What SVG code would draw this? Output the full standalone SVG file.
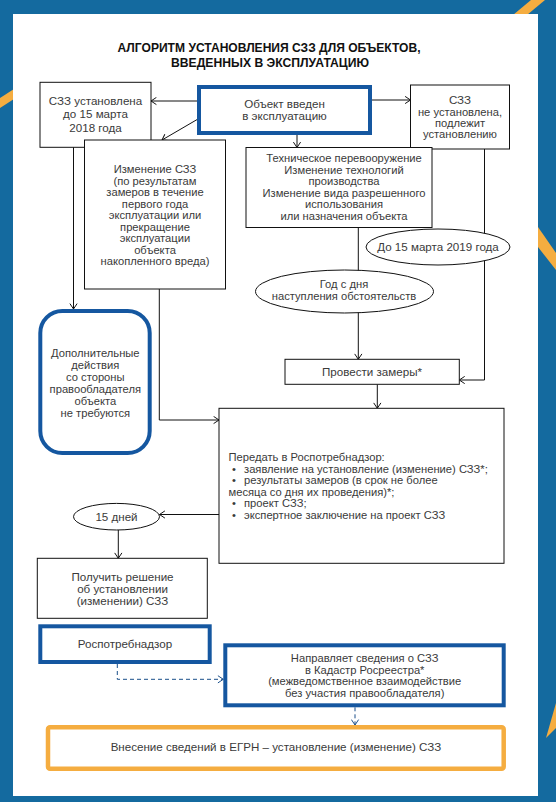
<svg xmlns="http://www.w3.org/2000/svg" width="556" height="802" viewBox="0 0 556 802">
<style>
text{font-family:"Liberation Sans",Arial,sans-serif;font-size:11.6px;fill:#3a3a3a;text-anchor:middle}
.title{font-size:12px;font-weight:bold;fill:#111}
.l{text-anchor:start;font-size:11.2px}
.m{font-size:11.2px}
.box{fill:#fff;stroke:#111;stroke-width:1}
.blue{fill:#fff;stroke:#1557a0;stroke-width:4}
.orange{fill:#fff;stroke:#f5ad40;stroke-width:4.5}
.ln{fill:none;stroke:#111;stroke-width:1}
.dash{fill:none;stroke:#1a4f8a;stroke-width:1;stroke-dasharray:4 3}
</style>
<defs>
<marker id="ar" viewBox="0 0 10 10" refX="9" refY="5" markerWidth="9" markerHeight="9" markerUnits="userSpaceOnUse" orient="auto">
<path d="M3,1 L9,5 L3,9" fill="none" stroke="#111" stroke-width="1.1"/>
</marker>
<marker id="arb" viewBox="0 0 10 10" refX="9" refY="5" markerWidth="9" markerHeight="9" markerUnits="userSpaceOnUse" orient="auto">
<path d="M3,1 L9,5 L3,9" fill="none" stroke="#1a4f8a" stroke-width="1.1"/>
</marker>
</defs>
<g id="background">
<rect x="0" y="0" width="556" height="802" fill="#146a9f"/>
<polygon points="0,98 14,89 14,99 0,108" fill="#f5ad40"/>
<polygon points="513,15 527,15 545,0 531,0" fill="#f5ad40"/>
<polygon points="538,227 556,253 556,270 538,247" fill="#f5ad40"/>
<polygon points="556,703 556,728 546,738" fill="#f5ad40"/>
<rect x="13" y="14" width="525" height="782" fill="#fff"/>
</g>
<g id="title">
<text class="title" x="269" y="52" textLength="303" lengthAdjust="spacingAndGlyphs">АЛГОРИТМ УСТАНОВЛЕНИЯ СЗЗ ДЛЯ ОБЪЕКТОВ,</text>
<text class="title" x="270" y="67" textLength="198" lengthAdjust="spacingAndGlyphs">ВВЕДЕННЫХ В ЭКСПЛУАТАЦИЮ</text>
</g>
<g id="connectors">
<line class="ln" x1="197" y1="101" x2="151" y2="101" marker-end="url(#ar)"/>
<line class="ln" x1="372" y1="100" x2="410.5" y2="100" marker-end="url(#ar)"/>
<line class="ln" x1="297" y1="135" x2="297" y2="147.5" marker-end="url(#ar)"/>
<line class="ln" x1="198" y1="119" x2="162" y2="140" marker-end="url(#ar)"/>
<line class="ln" x1="73.5" y1="147" x2="73.5" y2="309" marker-end="url(#ar)"/>
<polyline class="ln" points="159.3,289 159.3,420 219,420" marker-end="url(#ar)"/>
<line class="ln" x1="358.3" y1="227.5" x2="358.3" y2="359.3" marker-end="url(#ar)"/>
<polyline class="ln" points="484.5,149 484.5,380 459.3,380" marker-end="url(#ar)"/>
<line class="ln" x1="377.3" y1="384.3" x2="377.3" y2="408.3" marker-end="url(#ar)"/>
<line class="ln" x1="219" y1="514.5" x2="159.5" y2="514.5" marker-end="url(#ar)"/>
<line class="ln" x1="118.3" y1="530" x2="118.3" y2="558.3" marker-end="url(#ar)"/>
<polyline class="dash" points="117.3,664 117.3,679.3 223.3,679.3" marker-end="url(#arb)"/>
<line class="dash" x1="355" y1="707.3" x2="355" y2="725" marker-end="url(#arb)"/>
</g>
<g id="n-installed">
<rect class="box" x="40" y="82.3" width="111" height="65"/>
<text x="95.5" y="104.5" font-size="12">СЗЗ установлена</text>
<text x="95.5" y="118" font-size="12">до 15 марта</text>
<text x="95.5" y="132" font-size="12">2018 года</text>
</g>
<g id="n-object">
<rect class="blue" x="199" y="87" width="171" height="46"/>
<text x="284.5" y="108">Объект введен</text>
<text x="284.5" y="120">в эксплуатацию</text>
</g>
<g id="n-notinstalled">
<rect class="box" x="410.5" y="85" width="99" height="64"/>
<text x="460" y="104" font-size="12.5">СЗЗ</text>
<text class="m" x="460" y="116">не установлена,</text>
<text class="m" x="460" y="127">подлежит</text>
<text class="m" x="460" y="138">установлению</text>
</g>
<g id="n-change">
<rect class="box" x="84.5" y="140" width="141" height="149"/>
<text class="m" x="155" y="173">Изменение СЗЗ</text>
<text class="m" x="155" y="184.5">(по результатам</text>
<text class="m" x="155" y="196">замеров в течение</text>
<text class="m" x="155" y="207.5">первого года</text>
<text class="m" x="155" y="219">эксплуатации или</text>
<text class="m" x="155" y="230.5">прекращение</text>
<text class="m" x="155" y="242">эксплуатации</text>
<text class="m" x="155" y="253.5">объекта</text>
<text class="m" x="155" y="265">накопленного вреда)</text>
</g>
<g id="n-tech">
<rect class="box" x="246" y="147.5" width="186" height="80"/>
<text class="m" x="344" y="162">Техническое перевооружение</text>
<text class="m" x="344" y="173.5">Изменение технологий</text>
<text class="m" x="344" y="185">производства</text>
<text class="m" x="344" y="196.5">Изменение вида разрешенного</text>
<text class="m" x="344" y="208">использования</text>
<text class="m" x="344" y="219.5">или назначения объекта</text>
</g>
<g id="n-2019">
<ellipse class="box" cx="438" cy="247" rx="72" ry="18"/>
<text x="438" y="251">До 15 марта 2019 года</text>
</g>
<g id="n-year">
<ellipse class="box" cx="344.5" cy="291.5" rx="89" ry="21.5"/>
<text class="m" x="344" y="288">Год с дня</text>
<text class="m" x="344" y="299.5">наступления обстоятельств</text>
</g>
<g id="n-noaction">
<rect class="blue" x="40.3" y="311" width="109.4" height="142" rx="22"/>
<text class="m" x="95.3" y="356.5">Дополнительные</text>
<text class="m" x="95.3" y="368.5">действия</text>
<text class="m" x="95.3" y="380.5">со стороны</text>
<text class="m" x="95.3" y="392.5">правообладателя</text>
<text class="m" x="95.3" y="404.5">объекта</text>
<text class="m" x="95.3" y="416.5">не требуются</text>
</g>
<g id="n-measure">
<rect class="box" x="285" y="359.3" width="174.3" height="25"/>
<text x="372" y="376">Провести замеры*</text>
</g>
<g id="n-submit">
<rect class="box" x="219" y="408.3" width="285" height="155"/>
<text class="l" x="228.5" y="461">Передать в Роспотребнадзор:</text>
<text class="l" x="232" y="472.5">•<tspan x="244">заявление на установление (изменение) СЗЗ*;</tspan></text>
<text class="l" x="232" y="484">•<tspan x="244">результаты замеров (в срок не более</tspan></text>
<text class="l" x="228.5" y="495.5">месяца со дня их проведения)*;</text>
<text class="l" x="232" y="507">•<tspan x="244">проект СЗЗ;</tspan></text>
<text class="l" x="232" y="518.5">•<tspan x="244">экспертное заключение на проект СЗЗ</tspan></text>
</g>
<g id="n-15days">
<ellipse class="box" cx="116.5" cy="516.7" rx="43" ry="13.3"/>
<text x="116.5" y="520.5">15 дней</text>
</g>
<g id="n-decision">
<rect class="box" x="37.3" y="558.3" width="170" height="60"/>
<text x="122.5" y="581">Получить решение</text>
<text x="122.5" y="593">об установлении</text>
<text x="122.5" y="605">(изменении) СЗЗ</text>
</g>
<g id="n-rpn">
<rect class="blue" x="40.3" y="626.3" width="169.4" height="35.7"/>
<text x="125" y="648">Роспотребнадзор</text>
</g>
<g id="n-send">
<rect class="blue" x="225.3" y="645.3" width="278.4" height="60"/>
<text class="m" x="364.7" y="662">Направляет сведения о СЗЗ</text>
<text class="m" x="364.7" y="673.5">в Кадастр Росреестра*</text>
<text class="m" x="364.7" y="685">(межведомственное взаимодействие</text>
<text class="m" x="364.7" y="696.5">без участия правообладателя)</text>
</g>
<g id="n-egrn">
<rect class="orange" x="48" y="727.3" width="455.7" height="41.5" rx="2"/>
<text x="276" y="750.5">Внесение сведений в ЕГРН – установление (изменение) СЗЗ</text>
</g>
</svg>
